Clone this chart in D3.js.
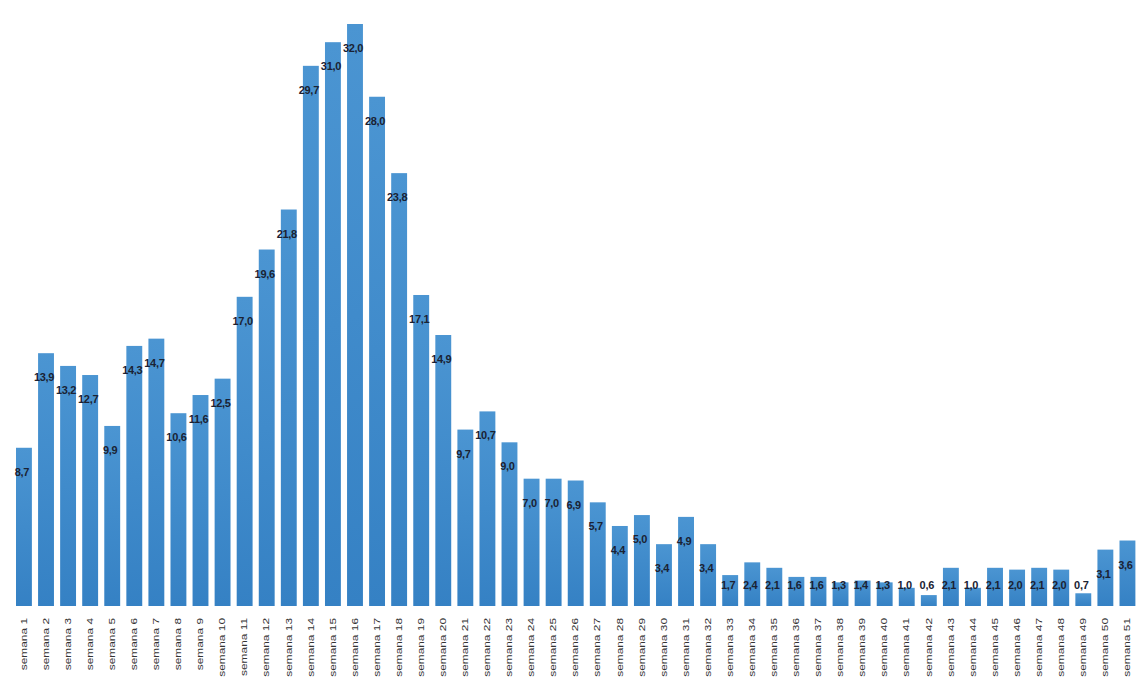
<!DOCTYPE html>
<html>
  <head>
    <meta charset="utf-8">
    <title>Semanas</title>
    <script src="https://d3js.org/d3.v7.min.js"></script>
    <style type="text/css">
    body { margin: 0; background: #fff; }
    .val { font-family: "Liberation Sans", Arial, sans-serif; font-weight: 700; font-size: 11px; fill: #1a2233; letter-spacing: -0.3px; }
    .xlab { font-family: "Liberation Sans", Arial, sans-serif; font-size: 8.5px; fill: #333; }
    </style>
  </head>
  <body>
  <script type="text/javascript">

    // weeks 1..51
    var semanas = d3.range(1, 52).map(function(n){ return "semana " + n; });

    var valores = [
      8.7, 13.9, 13.2, 12.7, 9.9, 14.3, 14.7, 10.6, 11.6, 12.5,
      17.0, 19.6, 21.8, 29.7, 31.0, 32.0, 28.0, 23.8, 17.1, 14.9,
      9.7, 10.7, 9.0, 7.0, 7.0, 6.9, 5.7, 4.4, 5.0, 3.4,
      4.9, 3.4, 1.7, 2.4, 2.1, 1.6, 1.6, 1.3, 1.4, 1.3,
      1.0, 0.6, 2.1, 1.0, 2.1, 2.0, 2.1, 2.0, 0.7, 3.1,
      3.6
    ];

    var W = 1136, H = 686;

    var svg = d3.select("body").append("svg")
      .attr("width", W)
      .attr("height", H);

    var x = d3.scaleBand()
      .domain(semanas)
      .range([16, 16 + 22.07 * (semanas.length - 0.28)])
      .paddingInner(0.28)
      .paddingOuter(0);

    var y = d3.scaleLinear()
      .domain([0, 32])
      .range([606, 24]);

    var grad = svg.append("defs").append("linearGradient")
      .attr("id", "barg")
      .attr("x1", 0).attr("y1", 0).attr("x2", 0).attr("y2", 1);
    grad.append("stop").attr("offset", "0%").attr("stop-color", "#4b95d2");
    grad.append("stop").attr("offset", "100%").attr("stop-color", "#3581c4");

    var data = semanas.map(function(s, i){ return {semana: s, valor: valores[i]}; });

    svg.selectAll(".bar")
      .data(data)
      .enter().append("rect")
      .attr("class", "bar")
      .attr("x", function(d){ return x(d.semana); })
      .attr("width", x.bandwidth())
      .attr("y", function(d){ return y(d.valor); })
      .attr("height", function(d){ return y(0) - y(d.valor); })
      .attr("fill", "url(#barg)");

    var fmt = d3.format(".1f");

    // labels sit inside the bar end, short bars get pushed up to a common line
    svg.selectAll(".val")
      .data(data)
      .enter().append("text")
      .attr("class", "val")
      .attr("text-anchor", "middle")
      .attr("x", function(d){ return x(d.semana) + x.bandwidth() / 2 - 2; })
      .attr("y", function(d){ return Math.min(y(d.valor) + 28, 589); })
      .text(function(d){ return fmt(d.valor).replace(".", ","); });

    // x axis labels, rotated (stretched like the source screenshot)
    var xAxis = d3.axisBottom(x).tickSize(0).tickPadding(0);
    var gx = svg.append("g")
      .attr("transform", "translate(0,618)")
      .call(xAxis);
    gx.select(".domain").remove();
    gx.selectAll("text")
      .attr("class", "xlab")
      .attr("text-anchor", "end")
      .attr("transform", "rotate(-90) scale(1.4,1)")
      .attr("x", 0)
      .attr("y", 0)
      .attr("dy", "0.32em");

  </script>
  </body>
</html>
